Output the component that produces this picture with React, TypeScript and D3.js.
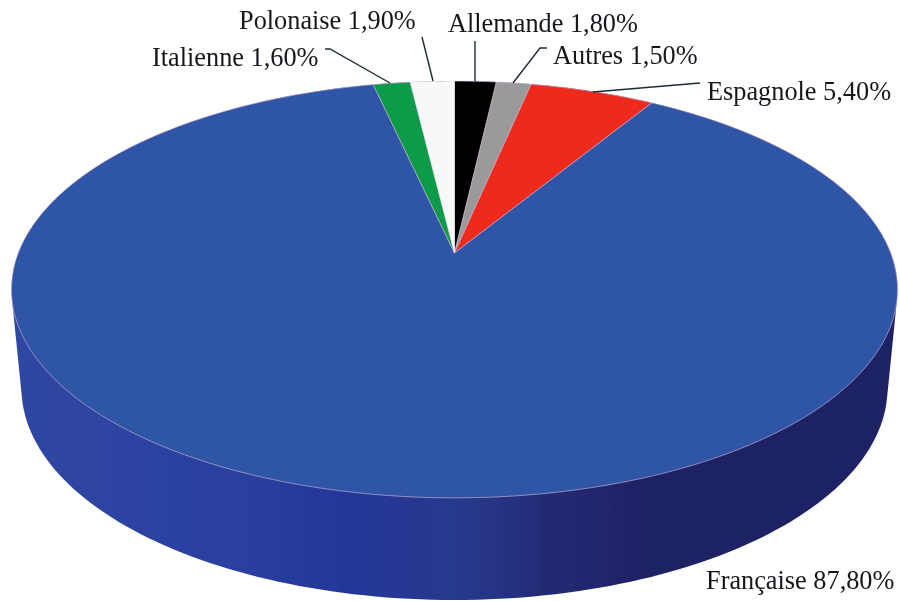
import React from "react";
import * as d3 from "d3";

const categories = ["Allemande", "Autres", "Espagnole", "Française", "Italienne", "Polonaise"];
const shares = [1.8, 1.5, 5.4, 87.8, 1.6, 1.9];
const shareLabels = ["1,80%", "1,50%", "5,40%", "87,80%", "1,60%", "1,90%"];
const sliceColors = ["#000000", "#9a9a9a", "#ee2a1f", "#2e54a6", "#0e9b48", "#f8f8f8"];

// Layout (not data)
const W = 900, H = 601;
const CX = 454.5, PIVOT_Y = 253, K = 0.175, A = 436.2, B = 202;
const labelAnchors: [number, number][] = [[448, 32], [553, 64], [707, 100], [706, 589], [152, 66], [239, 29]];
const leaders: [number, number][][] = [
  [[475, 41], [475, 81]],
  [[547, 48], [540, 48], [513, 83]],
  [[700, 83], [593, 92]],
  [],
  [[325, 49], [330, 49], [390, 83]],
  [[422, 37], [433, 81]],
];
const sideStops: [number, string][] = [
  [0, "#2f46a3"], [0.25, "#2b409f"], [0.38, "#243698"], [0.5, "#273a8e"],
  [0.6, "#232c76"], [0.72, "#1f2064"], [1, "#1f2064"],
];

const project = (t: number): [number, number] => {
  const u = Math.sin(t), v = -Math.cos(t), w = 1 - K * v;
  return [CX + (A * u) / w, PIVOT_Y + (B * v) / w];
};
const line = d3.line<[number, number]>();
const pie = d3.pie<number>().sort(null).value((d) => d);
const arcs = pie(shares);

const slicePath = (a0: number, a1: number) => {
  const n = Math.max(4, Math.ceil((a1 - a0) * 60));
  const pts = d3.range(n + 1).map((i) => project(a0 + ((a1 - a0) * i) / n));
  return line([[CX, PIVOT_Y], ...pts]) + "Z";
};

const ellipsePts = (cy: number, rx: number, ry: number) =>
  d3.range(240).map((i): [number, number] => {
    const t = (i / 240) * 2 * Math.PI;
    return [CX + rx * Math.cos(t), cy + ry * Math.sin(t)];
  });
const hull = d3.polygonHull([...ellipsePts(289.5, 443, 208.5), ...ellipsePts(388, 433, 212)])!;

export default function App() {
  return (
    <svg width={W} height={H} viewBox={`0 0 ${W} ${H}`} style={{ position: "absolute", left: 0, top: 0, background: "#fff" }}>
      <defs>
        <linearGradient id="side" gradientUnits="userSpaceOnUse" x1={12} x2={897} y1={0} y2={0}>
          {sideStops.map(([o, c]) => <stop key={o} offset={o} stopColor={c} />)}
        </linearGradient>
        <filter id="soft" x="-5%" y="-5%" width="110%" height="110%">
          <feGaussianBlur stdDeviation="0.45" />
        </filter>
      </defs>
      <g filter="url(#soft)">
        <path d={line(hull) + "Z"} fill="url(#side)" />
        {arcs.map((a, i) => (
          <path key={categories[i]} d={slicePath(a.startAngle, a.endAngle)} fill={sliceColors[i]}
            stroke={i === 5 ? "#e6ecec" : "#dcbcd8"} strokeWidth={0.6} />
        ))}
        {leaders.map((l, i) => l.length > 0 && (
          <path key={i} d={line(l) || ""} fill="none" stroke="#1d2b33" strokeWidth={1.4} />
        ))}
        {categories.map((c, i) => (
          <text key={c} x={labelAnchors[i][0]} y={labelAnchors[i][1]} fontFamily="'Liberation Serif'" fontSize={26.3} fill="#14181c">
            {`${c} ${shareLabels[i]}`}
          </text>
        ))}
      </g>
    </svg>
  );
}
